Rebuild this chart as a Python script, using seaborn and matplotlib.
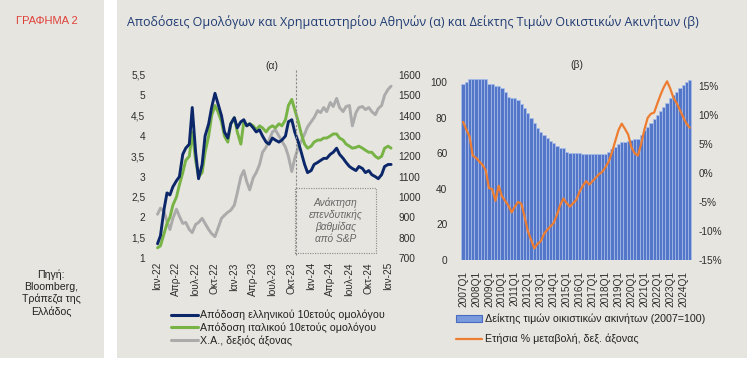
import numpy as np
import pandas as pd
import matplotlib
matplotlib.use("Agg")
import matplotlib.pyplot as plt
import seaborn as sns
from matplotlib.patches import Rectangle, Patch
from matplotlib.lines import Line2D

# ---------------- data ----------------
# panel (a): semi-monthly observations, Jan 2022 - Jan 2025
greek_10y = [1.35, 1.55, 2.2, 2.6, 2.55, 2.75, 2.9, 3.0, 3.55, 3.7,
             3.8, 4.7, 3.6, 2.95, 3.3, 4.0, 4.3, 4.7, 5.05, 4.8,
             4.5, 4.1, 3.95, 4.3, 4.45, 4.2, 4.35, 4.4, 4.25, 4.3,
             4.2, 4.1, 4.15, 4.0, 3.85, 3.8, 3.95, 3.9, 3.85, 3.9,
             4.0, 4.35, 4.4, 4.1, 3.85, 3.6, 3.3, 3.1, 3.15, 3.3,
             3.35, 3.4, 3.45, 3.45, 3.55, 3.6, 3.7, 3.55, 3.45, 3.35,
             3.25, 3.2, 3.15, 3.25, 3.2, 3.1, 3.15, 3.05, 3.0, 2.95,
             3.05, 3.25, 3.3, 3.3]
italy_10y = [1.25, 1.3, 1.6, 1.85, 2.0, 2.3, 2.5, 2.8, 3.1, 3.4,
             3.5, 4.1, 3.4, 3.0, 3.1, 3.6, 4.0, 4.5, 4.75, 4.6,
             4.35, 4.0, 3.85, 4.3, 4.45, 4.1, 3.8, 4.35, 4.25, 4.3,
             4.25, 4.15, 4.25, 4.2, 4.1, 4.2, 4.25, 4.2, 4.3, 4.25,
             4.4, 4.75, 4.9, 4.65, 4.35, 4.05, 3.8, 3.7, 3.75, 3.85,
             3.9, 3.9, 3.95, 3.95, 4.0, 4.05, 4.05, 3.95, 3.9, 3.8,
             3.75, 3.7, 3.72, 3.75, 3.7, 3.65, 3.6, 3.6, 3.5, 3.45,
             3.5, 3.7, 3.75, 3.7]
athex = [915, 945, 930, 880, 840, 895, 940, 905, 870, 875,
         840, 825, 865, 875, 895, 870, 840, 820, 805, 845,
         895, 910, 925, 935, 960, 1020, 1100, 1130, 1075, 1035,
         1095, 1120, 1160, 1220, 1245, 1280, 1320, 1330, 1300, 1275,
         1245, 1200, 1125, 1190, 1245, 1275, 1310, 1345, 1370, 1390,
         1425, 1415, 1440, 1420, 1465, 1445, 1485, 1440, 1420, 1445,
         1450, 1350, 1415, 1440, 1445, 1430, 1440, 1420, 1405, 1435,
         1450, 1500, 1530, 1545]
month_ticks = ["2022-01-01", "2022-04-01", "2022-07-01", "2022-10-01",
               "2023-01-01", "2023-04-01", "2023-07-01", "2023-10-01",
               "2024-01-01", "2024-04-01", "2024-07-01", "2024-10-01",
               "2025-01-01"]
month_labels = ["Ιαν-22", "Απρ-22", "Ιουλ-22", "Οκτ-22", "Ιαν-23", "Απρ-23",
                "Ιουλ-23", "Οκτ-23", "Ιαν-24", "Απρ-24", "Ιουλ-24", "Οκτ-24",
                "Ιαν-25"]
sp_upgrade = "2023-10-20"

# panel (b): quarterly, 2007Q1 - 2024Q3
house_index = [98.7, 100.2, 101.5, 101.5, 101.5, 101.5, 101.5, 101.5, 98.7, 99.1,
               97.9, 97.9, 96.4, 94.6, 91.8, 91.2, 91.2, 89.9, 87.5, 85.2,
               82.4, 79.6, 76.8, 74.3, 72.1, 70.2, 68.4, 66.9, 65.5, 64.2,
               63.1, 62.7, 60.8, 60.3, 60.3, 60.3, 60.3, 59.6, 59.6, 59.6,
               59.6, 59.6, 59.6, 59.5, 59.7, 60.8, 62.2, 63.7, 65.0, 66.1,
               66.5, 66.9, 67.4, 67.8, 67.8, 70.2, 73.0, 74.9, 76.8, 79.0,
               81.5, 83.7, 86.1, 88.4, 90.8, 92.7, 94.6, 96.4, 98.3, 100.2,
               101.1]
house_yoy = [8.8, 7.5, 6.3, 3.0, 2.6, 2.0, 1.4, 0.5, -2.6, -2.8,
             -4.8, -2.2, -4.0, -4.8, -5.6, -6.8, -5.8, -5.0, -5.3, -7.5,
             -10.0, -11.5, -13.0, -12.2, -11.8, -10.5, -9.8, -9.2, -8.6, -7.2,
             -5.5, -4.4, -5.2, -5.8, -5.2, -4.6, -3.2, -2.2, -1.4, -2.0,
             -1.4, -0.8, -0.2, 0.2, 1.0, 2.0, 3.6, 5.5, 7.4, 8.5,
             7.6, 6.6, 4.4, 3.4, 3.0, 5.0, 7.5, 9.5, 10.2, 10.4,
             12.0, 13.5, 14.8, 15.8, 14.5, 12.9, 12.0, 10.8, 9.6, 8.5,
             7.8]
years = list(range(2007, 2025))

# ---------------- style ----------------
sns.set_theme(style="white")
plt.rcParams["font.family"] = ["Liberation Sans", "DejaVu Sans"]

W, H = 747, 365
fig = plt.figure(figsize=(W / 100, H / 100), dpi=100)
fig.patch.set_facecolor("white")
BG = "#e6e5e0"
TXT = "#2e2e2e"


def rect(x0, y0, x1, y1):
    return [x0 / W, 1 - y1 / H, (x1 - x0) / W, (y1 - y0) / H]


fig.patches.append(Rectangle((0, 1 - 358 / H), 104 / W, 358 / H, transform=fig.transFigure,
                             facecolor=BG, edgecolor="none", zorder=-10))
fig.patches.append(Rectangle((117 / W, 1 - 358 / H), (747 - 117) / W, 358 / H,
                             transform=fig.transFigure, facecolor=BG, edgecolor="none", zorder=-10))

fig.text(16 / W, 1 - 21 / H, "ΓΡΑΦΗΜΑ 2", color="#e0413a", fontsize=8, va="center", ha="left")
fig.text(127 / W, 1 - 22 / H,
         "Αποδόσεις Ομολόγων και Χρηματιστηρίου Αθηνών (α) και Δείκτης Τιμών Οικιστικών Ακινήτων (β)",
         color="#1f3b73", fontsize=9.0, va="center", ha="left", family=["Open Sans", "DejaVu Sans"])
fig.text(51 / W, 1 - 293 / H, "Πηγή:\nBloomberg,\nΤράπεζα της\nΕλλάδος", color="#222222",
         fontsize=7.6, ha="center", va="center", linespacing=1.25)


def clean(ax):
    ax.set_facecolor("none")
    for s in ax.spines.values():
        s.set_visible(False)
    ax.grid(False)
    ax.set_xlabel("")
    ax.set_ylabel("")


# ---------------- panel (a) ----------------
dates = pd.date_range("2022-01-01", periods=len(greek_10y), freq="SMS")
dfa = pd.DataFrame({"date": dates, "gr": greek_10y, "it": italy_10y, "ax": athex})

axG = fig.add_axes(rect(155, 75, 393, 258))
sns.lineplot(data=dfa, x="date", y="ax", ax=axG, color="#ababab", lw=2.1, legend=False)
axB = axG.twinx()
sns.lineplot(data=dfa, x="date", y="it", ax=axB, color="#78b346", lw=2.1, legend=False)
sns.lineplot(data=dfa, x="date", y="gr", ax=axB, color="#0b2769", lw=2.1, legend=False)
for a in (axG, axB):
    clean(a)
axG.set_xlim(pd.Timestamp("2021-12-20"), pd.Timestamp("2025-01-24"))
axG.set_ylim(700, 1600)
axB.set_ylim(1, 5.5)
axG.yaxis.tick_right()
axB.yaxis.tick_left()
axG.set_yticks(range(700, 1601, 100))
axG.set_yticklabels([str(v) for v in range(700, 1601, 100)])
b_ticks = np.arange(1, 5.51, 0.5)
axB.set_yticks(b_ticks)
axB.set_yticklabels([f"{v:g}".replace(".", ",") for v in b_ticks])
axG.set_xticks(pd.to_datetime(month_ticks))
axG.set_xticklabels(month_labels, rotation=90)
axG.tick_params(axis="y", labelsize=7.3, pad=4, length=0, colors=TXT, labelright=True, labelleft=False)
axB.tick_params(axis="y", labelsize=7.3, pad=7, length=0, colors=TXT, labelleft=True, labelright=False)
axG.tick_params(axis="x", labelsize=7.3, pad=3, length=0, colors=TXT)
axB.text(0.49, 1.02, "(α)", transform=axB.transAxes, ha="center", va="bottom", fontsize=7.5, color=TXT)

axB.axvline(pd.Timestamp(sp_upgrade), ymin=0.015, ymax=1.03, color="#8a8a8a", lw=0.8,
            ls=(0, (2, 1.5)), clip_on=False)
axB.add_patch(Rectangle((0.588, 0.027), 0.340, 0.355, transform=axB.transAxes, facecolor="none",
                        edgecolor="#8a8a8a", lw=0.8, ls=(0, (1, 1.2))))
axB.text(0.758, 0.205, "Ανάκτηση\nεπενδυτικής\nβαθμίδας\nαπό S&P", transform=axB.transAxes,
         ha="center", va="center", fontsize=7.3, style="italic", color="#666666", linespacing=1.2)

fig.legend(handles=[Line2D([], [], color="#0b2769", lw=2.2),
                    Line2D([], [], color="#78b346", lw=2.2),
                    Line2D([], [], color="#ababab", lw=2.2)],
           labels=["Απόδοση ελληνικού 10ετούς ομολόγου",
                   "Απόδοση ιταλικού 10ετούς ομολόγου",
                   "Χ.Α., δεξιός άξονας"],
           loc="upper left", bbox_to_anchor=(171 / W, 1 - 310 / H), frameon=False,
           fontsize=7.7, handlelength=2.5, handletextpad=0.25, labelspacing=0.2,
           borderpad=0, borderaxespad=0, labelcolor="#222222")

# ---------------- panel (b) ----------------
quarters = [f"{y}Q{q}" for y in years for q in range(1, 5)][:len(house_index)]
dfb = pd.DataFrame({"q": quarters, "idx": house_index, "yoy": house_yoy,
                    "pos": np.arange(len(house_index))})

axH = fig.add_axes(rect(459.8, 78.4, 693, 260))
sns.barplot(data=dfb, x="q", y="idx", ax=axH, color="#5476c8", saturation=1, width=1.0,
            edgecolor="#a8bfea", linewidth=0.5)
axY = axH.twinx()
sns.lineplot(data=dfb, x="pos", y="yoy", ax=axY, color="#ed7d31", lw=1.6, legend=False)
for a in (axH, axY):
    clean(a)
axH.set_xlim(-1, len(house_index))
axH.set_ylim(0, 102)
axY.set_ylim(-15, 16.3)
axH.set_yticks(range(0, 101, 20))
axH.set_yticklabels([str(v) for v in range(0, 101, 20)])
y_ticks = list(range(-15, 16, 5))
axY.set_yticks(y_ticks)
axY.set_yticklabels([f"{v}%" for v in y_ticks])
axH.set_xticks(range(0, len(house_index), 4))
axH.set_xticklabels(quarters[::4], rotation=90)
axH.tick_params(axis="y", labelsize=7.3, pad=9, length=0, colors=TXT)
axY.tick_params(axis="y", labelsize=7.3, pad=4, length=0, colors=TXT)
axH.tick_params(axis="x", labelsize=7.3, pad=8, length=0, colors=TXT)
axH.text(0.5, 1.045, "(β)", transform=axH.transAxes, ha="center", va="bottom", fontsize=7.5, color=TXT)

fig.legend(handles=[Patch(facecolor="#7a9ade", edgecolor="#4a6cc0", lw=0.8),
                    Line2D([], [], color="#ed7d31", lw=1.6)],
           labels=["Δείκτης τιμών οικιστικών ακινήτων (2007=100)",
                   "Ετήσια % μεταβολή, δεξ. άξονας"],
           loc="upper left", bbox_to_anchor=(456 / W, 1 - 314 / H), frameon=False,
           fontsize=7.7, handlelength=2.4, handleheight=0.6, handletextpad=0.3, labelspacing=0.85,
           borderpad=0, borderaxespad=0, labelcolor="#222222")

fig.savefig("out.png", dpi=100, facecolor=fig.get_facecolor())
